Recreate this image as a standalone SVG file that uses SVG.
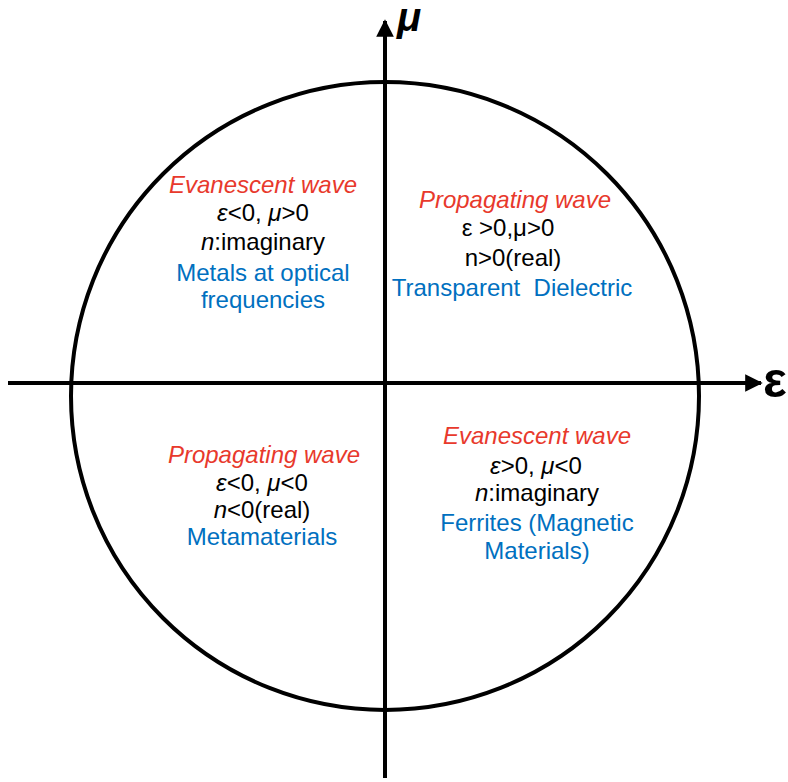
<svg xmlns="http://www.w3.org/2000/svg" width="788" height="782" viewBox="0 0 788 782">
  <style>
    .t { font-family: "Liberation Sans", Arial, sans-serif; font-size: 24px; text-anchor: middle; fill: #000; }
    .red { fill: #E8392C; font-style: italic; }
    .blue { fill: #0070C0; }
    .i { font-style: italic; }
    .ax { stroke: #000; stroke-width: 4; fill: none; }
    .lbl { font-family: "Liberation Sans", Arial, sans-serif; font-weight: bold; fill: #000; }
  </style>
  <defs>
    <marker id="ah" viewBox="0 0 10 10" refX="9" refY="5" markerWidth="4.4" markerHeight="4.4" markerUnits="strokeWidth" orient="auto">
      <path d="M0,0 L10,5 L0,10 Z" fill="#000"/>
    </marker>
  </defs>
  <rect width="788" height="782" fill="#fff"/>
  <g id="circle">
    <circle cx="385" cy="396" r="314" class="ax"/>
  </g>
  <g id="connectors">
    <line x1="8" y1="383" x2="761" y2="383" class="ax" marker-end="url(#ah)"/>
    <line x1="385" y1="778" x2="385" y2="21" class="ax" marker-end="url(#ah)"/>
  </g>
  <g id="axis-labels">
    <text class="lbl" x="397" y="31" font-size="40" font-style="italic">μ</text>
    <text class="lbl" x="763" y="397" font-size="50">ε</text>
  </g>
  <g id="q2">
    <text class="t red" x="263" y="193">Evanescent wave</text>
    <text class="t" x="263" y="221"><tspan class="i">ε</tspan>&lt;0, <tspan class="i">μ</tspan>&gt;0</text>
    <text class="t" x="263" y="250"><tspan class="i">n</tspan>:imaginary</text>
    <text class="t blue" x="263" y="281">Metals at optical</text>
    <text class="t blue" x="263" y="308">frequencies</text>
  </g>
  <g id="q1">
    <text class="t red" x="515" y="208">Propagating wave</text>
    <text class="t" x="508" y="236">ε &gt;0,μ&gt;0</text>
    <text class="t" x="513" y="266">n&gt;0(real)</text>
    <text class="t blue" x="512" y="296" xml:space="preserve">Transparent  Dielectric</text>
  </g>
  <g id="q3">
    <text class="t red" x="264" y="463">Propagating wave</text>
    <text class="t" x="262" y="491"><tspan class="i">ε</tspan>&lt;0, <tspan class="i">μ</tspan>&lt;0</text>
    <text class="t" x="262" y="518"><tspan class="i">n</tspan>&lt;0(real)</text>
    <text class="t blue" x="262" y="545">Metamaterials</text>
  </g>
  <g id="q4">
    <text class="t red" x="537" y="444">Evanescent wave</text>
    <text class="t" x="536" y="474"><tspan class="i">ε</tspan>&gt;0, <tspan class="i">μ</tspan>&lt;0</text>
    <text class="t" x="537" y="501"><tspan class="i">n</tspan>:imaginary</text>
    <text class="t blue" x="537" y="531">Ferrites (Magnetic</text>
    <text class="t blue" x="537" y="559">Materials)</text>
  </g>
</svg>
